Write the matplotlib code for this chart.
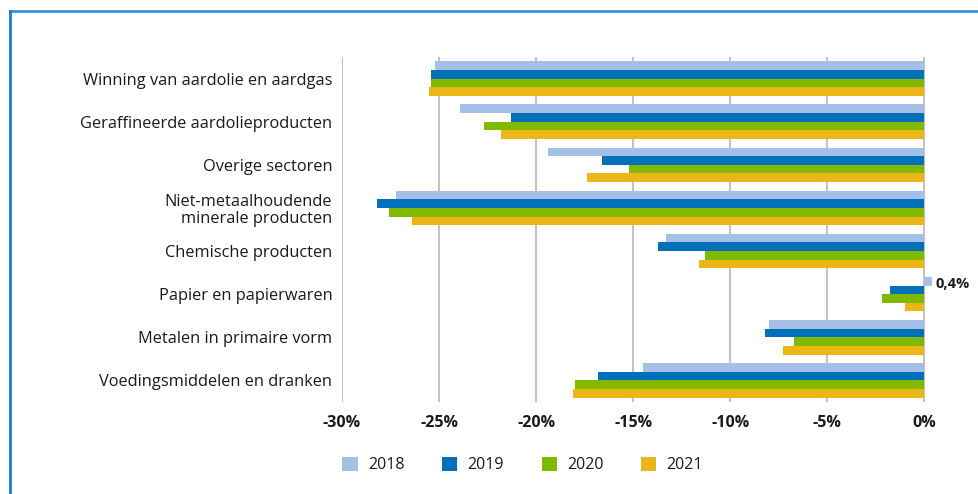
import matplotlib
matplotlib.use("Agg")
import matplotlib.pyplot as plt
from matplotlib.lines import Line2D
from matplotlib.patches import Patch
import numpy as np

plt.rcParams['font.family'] = ['Open Sans', 'DejaVu Sans']

categories = [
    "Winning van aardolie en aardgas",
    "Geraffineerde aardolieproducten",
    "Overige sectoren",
    "Niet-metaalhoudende\nminerale producten",
    "Chemische producten",
    "Papier en papierwaren",
    "Metalen in primaire vorm",
    "Voedingsmiddelen en dranken",
]
years = ["2018", "2019", "2020", "2021"]
v2018 = [-25.2, -23.9, -19.4, -27.2, -13.3, 0.4, -8.0, -14.5]
v2019 = [-25.4, -21.3, -16.6, -28.2, -13.7, -1.8, -8.2, -16.8]
v2020 = [-25.4, -22.7, -15.2, -27.6, -11.3, -2.2, -6.7, -18.0]
v2021 = [-25.5, -21.8, -17.4, -26.4, -11.6, -1.0, -7.3, -18.1]
series = [v2018, v2019, v2020, v2021]
colors = ["#a5c0e6", "#0070b9", "#7fba00", "#ebb718"]
xticks = [-30, -25, -20, -15, -10, -5, 0]
xticklabels = ["-30%", "-25%", "-20%", "-15%", "-10%", "-5%", "0%"]
annot_text = "0,4%"

xmin, xmax = -30, 0.6
px_per_unit = (924.5 - 342) / 30.0
right_px = 924.5 + xmax * px_per_unit

fig = plt.figure(figsize=(9.79, 4.94), dpi=100)
ax = fig.add_axes([342/979, 1-402/494, (right_px-342)/979, (402-57)/494])

y = np.arange(len(categories))
h = 0.2
offsets = [-0.3, -0.1, 0.1, 0.3]
for vals, off, c, yr in zip(series, offsets, colors, years):
    ax.barh(y + off, vals, height=h, color=c, label=yr, zorder=3)

ax.set_xlim(xmin, xmax)
ax.set_ylim(7.5, -0.5)
ax.set_xticks(xticks)
ax.set_xticklabels(xticklabels, fontweight='bold', fontsize=11.5, color='#1a1a1a')
ax.set_yticks(y)
ax.set_yticklabels(categories, fontsize=11.8, color='#1a1a1a', linespacing=1.05)
ax.tick_params(axis='both', length=0)
ax.tick_params(axis='x', pad=9)
ax.tick_params(axis='y', pad=7)
for s in ax.spines.values():
    s.set_visible(False)
ax.grid(axis='x', color='#c4c4c4', linewidth=1.5, zorder=0)
ax.set_axisbelow(True)

# annotation for positive value
ax.annotate(annot_text, xy=(v2018[5], y[5] + offsets[0]), xytext=(2, -2),
            textcoords='offset points', va='center', ha='left',
            fontweight='bold', fontsize=10.5, color='#1a1a1a', annotation_clip=False)

handles = [Patch(facecolor=c, edgecolor='none') for c in colors]
leg = fig.legend(handles, years, loc='center left', bbox_to_anchor=(328/979, 1-465/494),
                 ncol=4, frameon=False, fontsize=11.5, handlelength=0.95, handleheight=0.95,
                 columnspacing=2.35, handletextpad=0.65)
for t in leg.get_texts():
    t.set_color('#1a1a1a')

# blue frame
fig.add_artist(Line2D([10/979, 1.0], [1-11/494, 1-11/494], color='#3d93d4', linewidth=2))
fig.add_artist(Line2D([10/979, 10/979], [0, 1-11/494], color='#1a7fd4', linewidth=2))

fig.savefig("out.png", dpi=100)
